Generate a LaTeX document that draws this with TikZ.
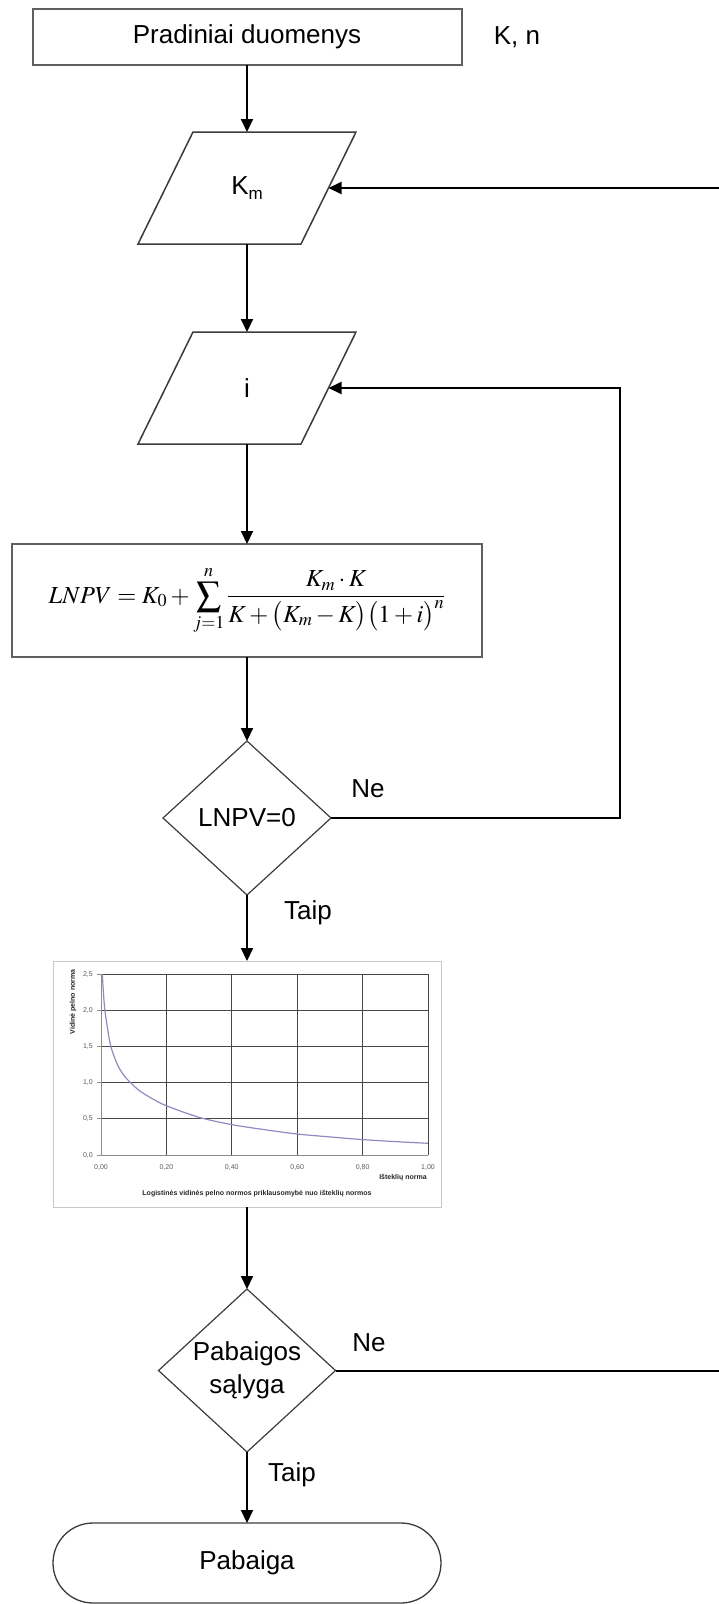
\documentclass[tikz,border=0pt]{standalone}
\usepackage{mathptmx}
\usepackage[no-math]{fontspec}
\setmainfont{Liberation Sans}
\usetikzlibrary{arrows.meta,calc}
\definecolor{edgec}{RGB}{60,60,60}
\definecolor{boxc}{RGB}{95,95,95}
\definecolor{gridc}{RGB}{70,70,70}
\definecolor{axisc}{RGB}{140,140,140}
\definecolor{framec}{RGB}{200,200,200}
\definecolor{curvec}{RGB}{140,140,195}
\definecolor{tickc}{RGB}{90,90,90}
\begin{document}
\begin{tikzpicture}[x=1pt,y=-1pt,
  every node/.style={inner sep=0pt,outer sep=0pt},
  txt/.style={font=\fontsize{26}{31}\selectfont},
  procbox/.style={draw=boxc,line width=2pt,txt},
  iobox/.style={minimum width=163pt,minimum height=112pt,txt},
  decbox/.style={txt,align=center},
  arr/.style={line width=2pt,-{Triangle[length=13pt,width=12pt]}},
  chtxt/.style={font=\fontsize{7}{8}\selectfont\bfseries,text=black!85},
  ticklab/.style={font=\fontsize{7}{8}\selectfont,text=tickc}]
\useasboundingbox (0,0) rectangle (718,1604);
\fill[white] (0,0) rectangle (718,1604);

% nodes
\node[procbox,minimum width=429pt,minimum height=56pt] (start) at (247,37) {Pradiniai duomenys};
\node[txt] (kn) at (517,37) {K, n};
\node[iobox] (km) at (247,188) {K\raisebox{-5pt}{\fontsize{17}{17}\selectfont m}};
\node[iobox] (ii) at (247,388) {i};
\node[procbox,minimum width=470pt,minimum height=113pt] (formula) at (247,600.5)
  {\fontsize{24.5}{29}\selectfont $\displaystyle LNPV = K_0+\sum_{j=1}^{n}\frac{K_m\cdot K}{K+\bigl(K_m-K\bigr)\bigl(1+i\bigr)^n}$};
\node[decbox,minimum width=168pt,minimum height=154pt] (lnpv) at (247,818) {LNPV=0};
\node[minimum width=388pt,minimum height=246pt,draw=framec,line width=1pt] (chart) at (247,1084) {};
\node[decbox,font=\fontsize{26}{33}\selectfont,minimum width=177pt,minimum height=163pt] (pab) at (247,1370.5) {Pabaigos\\sąlyga};
\node[txt,draw=edgec,line width=1.3pt,rounded corners=40pt,minimum width=388pt,minimum height=80pt] (end) at (247,1563) {Pabaiga};

% parallelograms and diamonds
\foreach \n in {km,ii}
  \draw[edgec,line width=1.5pt] ([xshift=27.5pt]\n.north west) -- ([xshift=27.5pt]\n.north east)
     -- ([xshift=-27.5pt]\n.south east) -- ([xshift=-27.5pt]\n.south west) -- cycle;
\foreach \n in {lnpv,pab}
  \draw[edgec,line width=1.2pt] (\n.north) -- (\n.east) -- (\n.south) -- (\n.west) -- cycle;

% chart contents
\begin{scope}[shift={(101,1155)},x=327pt,y=72.4pt]
  \foreach \i in {0.2,0.4,0.6,0.8,1.0}
    \draw[gridc,line width=0.8pt] (\i,0) -- (\i,2.5);
  \foreach \j in {0.5,1.0,1.5,2.0,2.5}
    \draw[gridc,line width=0.8pt] (0,\j) -- (1,\j);
  \draw[axisc,line width=1pt] (0,2.5) -- (0,0) -- (1,0);
  \foreach \j in {0,0.5,1.0,1.5,2.0,2.5}
    \draw[axisc,line width=0.8pt] (-0.012,\j) -- (0,\j);
  \foreach \j/\l in {0/{0,0},0.5/{0,5},1/{1,0},1.5/{1,5},2/{2,0},2.5/{2,5}}
    \node[ticklab,anchor=east] at (-0.025,\j) {\l};
  \foreach \i/\l in {0/{0,00},0.2/{0,20},0.4/{0,40},0.6/{0,60},0.8/{0,80},1/{1,00}}
    \node[ticklab] at (\i,-0.17) {\l};
  \draw[curvec,line width=1.2pt] plot[smooth,tension=0.5] coordinates {
    (0.004,2.5) (0.008,2.2) (0.012,2.0) (0.02,1.75) (0.03,1.5) (0.05,1.25) (0.07,1.1)
    (0.09,1.0) (0.12,0.88) (0.16,0.77) (0.2,0.68) (0.3,0.52) (0.4,0.42) (0.5,0.35)
    (0.6,0.29) (0.7,0.25) (0.8,0.213) (0.9,0.185) (1.0,0.162)};
\end{scope}
\node[chtxt,rotate=90] (ytitle) at (73,1002) {Vidinė pelno norma};
\node[chtxt] (xtitle) at (403,1178) {Išteklių norma};
\node[chtxt] (caption) at (257,1194) {Logistinės vidinės pelno normos priklausomybė nuo išteklių normos};

% connectors
\draw[arr] (start.south) -- (km.north);
\draw[arr] (km.south) -- (ii.north);
\draw[arr] (ii.south) -- (formula.north);
\draw[arr] (formula.south) -- (lnpv.north);
\draw[arr] (lnpv.south) -- (chart.north);
\draw[arr] (chart.south) -- (pab.north);
\draw[arr] (pab.south) -- (end.north);
\coordinate (rA) at (620,818);
\draw[arr] (lnpv.east) -- (rA) |- (ii.east);
\coordinate (rB) at (730,1370.5);
\draw[arr] (pab.east) -- (rB) |- (km.east);

% labels
\node[txt] (ne1) at (368,789) {Ne};
\node[txt] (taip1) at (308,913) {Taip};
\node[txt] (ne2) at (369,1343) {Ne};
\node[txt] (taip2) at (292,1475) {Taip};
\end{tikzpicture}
\end{document}
